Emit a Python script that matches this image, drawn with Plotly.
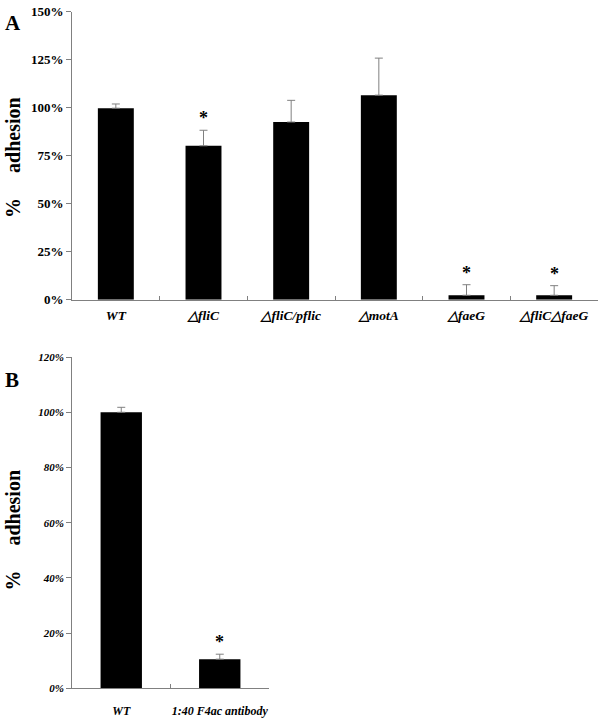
import plotly.graph_objects as go

# Panel A data
cats_a = ["WT", "△fliC", "△fliC/pflic", "△motA", "△faeG", "△fliC△faeG"]
vals_a = [99.8, 80.2, 92.6, 106.6, 2.3, 2.3]
errs_a = [2.2, 8.1, 11.3, 19.3, 5.5, 5.0]
sig_a = ["", "*", "", "", "*", "*"]
yticks_a = [0, 25, 50, 75, 100, 125, 150]
yticktext_a = ["0%", "25%", "50%", "75%", "100%", "125%", "150%"]

# Panel B data
cats_b = ["WT", "1:40 F4ac antibody"]
vals_b = [100.0, 10.6]
errs_b = [1.8, 1.8]
sig_b = ["", "*"]
yticks_b = [0, 20, 40, 60, 80, 100, 120]
yticktext_b = ["0%", "20%", "40%", "60%", "80%", "100%", "120%"]

W, H = 600, 719
SERIF = "Liberation Serif"
AXC = "#808080"

fig = go.Figure()

err_style = dict(type="data", symmetric=False, color=AXC, thickness=1, width=4)

fig.add_trace(go.Bar(
    x=cats_a, y=vals_a, marker=dict(color="black", line=dict(width=0)),
    error_y=dict(array=errs_a, arrayminus=[0] * len(errs_a), **err_style),
    xaxis="x", yaxis="y", width=0.41, showlegend=False))

fig.add_trace(go.Bar(
    x=cats_b, y=vals_b, marker=dict(color="black", line=dict(width=0)),
    error_y=dict(array=errs_b, arrayminus=[0] * len(errs_b), **err_style),
    xaxis="x2", yaxis="y2", width=0.42, showlegend=False))

annotations = []
for c, v, e, s in zip(cats_a, vals_a, errs_a, sig_a):
    if s:
        annotations.append(dict(x=c, y=v + e, xref="x", yref="y", text=s, showarrow=False,
                                yanchor="bottom", font=dict(family=SERIF, size=18, color="black", weight="bold")))
for c, v, e, s in zip(cats_b, vals_b, errs_b, sig_b):
    if s:
        annotations.append(dict(x=c, y=v + e, xref="x2", yref="y2", text=s, showarrow=False,
                                yanchor="bottom", font=dict(family=SERIF, size=18, color="black", weight="bold")))

# panel letters
annotations.append(dict(x=3 / W, y=1 - 3 / H, xref="paper", yref="paper", text="A", showarrow=False,
                        xanchor="left", yanchor="top", font=dict(family=SERIF, size=21, color="black", weight="bold")))
annotations.append(dict(x=3 / W, y=1 - 367 / H, xref="paper", yref="paper", text="B", showarrow=False,
                        xanchor="left", yanchor="top", font=dict(family=SERIF, size=21, color="black", weight="bold")))

ytitle = "%\u00a0\u00a0\u00a0\u00a0\u00a0adhesion"
annotations.append(dict(x=13 / W, y=1 - 155 / H, xref="paper", yref="paper", text=ytitle, showarrow=False,
                        textangle=-90, xanchor="center", yanchor="middle",
                        font=dict(family=SERIF, size=20, color="black", weight="bold")))
annotations.append(dict(x=13 / W, y=1 - 535 / H, xref="paper", yref="paper", text=ytitle, showarrow=False,
                        textangle=-90, xanchor="center", yanchor="middle",
                        font=dict(family=SERIF, size=20, color="black", weight="bold")))

xaxis_common = dict(showline=True, linecolor=AXC, linewidth=1, ticks="inside", tickson="boundaries",
                    ticklen=4, tickcolor=AXC, showgrid=False, zeroline=False, fixedrange=True,
                    tickangle=0)
yaxis_common = dict(showline=True, linecolor=AXC, linewidth=1, ticks="outside", ticklen=5,
                    tickcolor=AXC, showgrid=False, zeroline=False, fixedrange=True)

fig.update_layout(
    width=W, height=H,
    margin=dict(l=0, r=0, t=0, b=0),
    paper_bgcolor="white", plot_bgcolor="white",
    bargap=0.59,
    xaxis=dict(domain=[72 / W, 598 / W], anchor="y",
               tickfont=dict(family=SERIF, size=13.5, color="black", weight="bold", style="italic"),
               ticklabelstandoff=3, **xaxis_common),
    yaxis=dict(domain=[1 - 299.5 / H, 1 - 6 / H], anchor="x", range=[0, 150],
               tickvals=yticks_a, ticktext=yticktext_a,
               tickfont=dict(family=SERIF, size=13, color="black", weight="bold"),
               **yaxis_common),
    xaxis2=dict(domain=[72 / W, 269 / W], anchor="y2",
                tickfont=dict(family=SERIF, size=12, color="black", weight="bold", style="italic"),
                ticklabelstandoff=11, **xaxis_common),
    yaxis2=dict(domain=[1 - 696 / H, 1 - 358 / H], anchor="x2", range=[0, 120],
                tickvals=yticks_b, ticktext=yticktext_b,
                tickfont=dict(family=SERIF, size=11, color="black", weight="bold", style="italic"),
                **yaxis_common),
    annotations=annotations,
)

fig.write_html("out.html", config={"displayModeBar": False},
               post_script="document.body.style.margin='0';document.body.style.overflow='hidden';")
